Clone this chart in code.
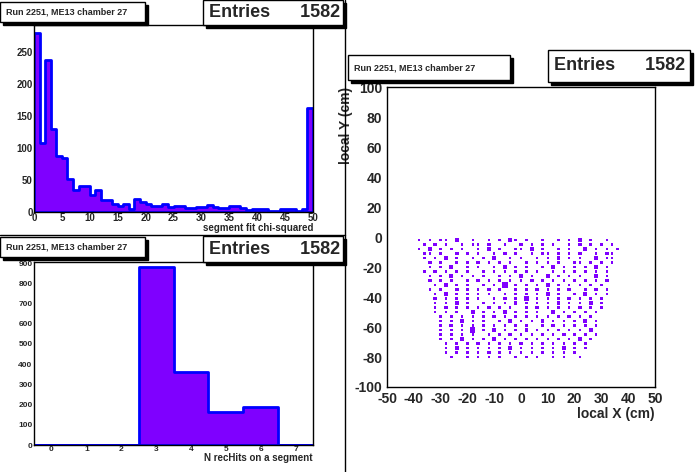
import numpy as np, pandas as pd, seaborn as sns, matplotlib
matplotlib.use("Agg")
import matplotlib.pyplot as plt

sns.set_style("white")
plt.rcParams['font.family'] = ['Liberation Sans', 'DejaVu Sans']
plt.rcParams['font.weight'] = 'bold'
plt.rcParams['axes.unicode_minus'] = False

chi2_bins = list(range(0, 50))
chi2_counts = [280,108,237,130,88,84,51,35,41,41,27,34,19,19,13,9,12,5,21,16,
               13,10,9,13,8,9,10,6,6,8,8,11,8,6,7,10,9,7,3,5,5,4,2,2,4,4,4,2,5,162]
nhits_bins = [0,1,2,3,4,5,6,7]
nhits_counts = [0,0,0,880,360,165,190,0]

# 2D occupancy: rows from y=-2 downwards (step 3 cm), cols from x=-38 (step 2 cm)
xy_x0, xy_dx, xy_y0, xy_dy = -38, 2, -2, -3
xy_rows = [
 "1.1.11.2..1..1.1.21.1..1..1.1.2.1..1..",
 ".1.2.1..1.11.2..1..2.1.1.1..1.2.1.1.1.",
 "1.2.1.1.1..1.2.1..11.2.1..1.1..2.1.1.1",
 ".21.1..2.1.1..1.2.1..1.21.1.1.2..1.21.",
 ".1.1.2.1..1.1.2..1.1..1.1.2.1.1..2.11.",
 "..2.1..1.1.2.1.1.1..2.1.1.1..21.1.1.1.",
 "..1.1.2..1.1..1.2.1.1..1.2.1.1.1.2.1..",
 ".1.2.1.1.1..2.1.1.2.1.1..1.1.2.1.1.1..",
 "..1.1.2.1.1.1..1.1.2.1..2.1.1.1..2.1..",
 "..2.1.1..1.2.1.1.1.1.2.1.1.1.2.1.1.2..",
 "...1.2.1.1..1.1.3.1.1.1.2.1.1.1.1.1...",
 "..1.1..2.1.1.2.1..1.1.2.1.1.2..1.2.1..",
 "...1.2.1.1.1.1..1.1.1.1.2.1..1.2.1.1..",
 "...2.1.1.2.1..1.2.1.3.1.1.1.2.1.1.1...",
 "...1.1.2.1..1.1.1.2.1.1.1.2.1.1.2.1...",
 "...1.2.1.1.1.2.1.1..1.2.1.1.1.2.1.1...",
 "...1.1.1..2.1.1.2.1.1.1..2.1.1.1.1....",
 "....2.1.1.1.1.2.1.1.2.1.1.1.2.1.1.....",
 "....1.1.2.1.1..1.2.1.1.2.1.1.1.2.1....",
 "....1.2.1.1.2.1.1.1.1..1.2.1.2.1.1....",
 "....1.1.1.3.1.2.1.1.2.1.1.1.1.1.2.....",
 "....2.1.1.1..1.1.2.1.1.2.1.2.1.1.1....",
 "....1.1.2.1.1.2.1.1.1.1.1.1.1.2.1.....",
 ".....1.1.1.2.1.1.1.2.1.2.1.1.1.1......",
 ".....1.2.1.1.1.1.2.1.1.1.1.2.1.1......",
 ".....1.1.1.1.2.1.1.1.1.2.1.1.1........",
 "......1..1.1.1.1..1.1.1..1.1..1.......",
]

W, H = 696, 472
fig = plt.figure(figsize=(W/100, H/100), dpi=100)
purple = '#7f00ff'
blue = '#0000ff'

def ax_at(x0, y0, x1, y1):
    return fig.add_axes([x0/W, 1-y1/H, (x1-x0)/W, (y1-y0)/H])

def box(x0, y0, x1, y1, text, size, shadow=True):
    if shadow:
        fig.patches.append(plt.Rectangle(((x0+3)/W, 1-(y1+3)/H), (x1-x0)/W, (y1-y0)/H,
                                         transform=fig.transFigure, color='black', zorder=5))
    fig.patches.append(plt.Rectangle((x0/W, 1-y1/H), (x1-x0)/W, (y1-y0)/H, transform=fig.transFigure,
                                     facecolor='white', edgecolor='black', lw=1, zorder=6))
    fig.text((x0+6)/W, 1-((y0+y1)/2)/H, text, fontsize=size, va='center', ha='left', zorder=7, weight='bold')

def style(ax):
    for s in ax.spines.values():
        s.set_linewidth(1); s.set_color('black')
    ax.tick_params(direction='in', length=5, width=1, top=False, right=False)
    ax.minorticks_on()
    ax.tick_params(which='minor', direction='in', length=3, width=0.8, top=False, right=False)

fig.add_artist(plt.Line2D([345/W,345/W],[0,1], color='black', lw=1))
fig.add_artist(plt.Line2D([0,345/W],[1-235/H,1-235/H], color='black', lw=1))

# Top-left
ax1 = ax_at(34, 25, 313, 212)
df1 = pd.DataFrame({'x': chi2_bins, 'w': chi2_counts})
sns.histplot(data=df1, x='x', weights='w', binwidth=1, binrange=(0, 50), element='step', fill=True,
             color=purple, alpha=1, edgecolor=blue, linewidth=2, ax=ax1)
ax1.set_xlim(0, 50); ax1.set_ylim(0, 292)
ax1.set_xticks(range(0, 51, 5)); ax1.set_yticks(range(0, 251, 50))
ax1.tick_params(labelsize=7, pad=1)
ax1.set_ylabel(''); ax1.set_xlabel('segment fit chi-squared', fontsize=7, weight='bold', loc='right', labelpad=0)
style(ax1)
box(0, 2, 145, 22, 'Run 2251, ME13 chamber 27', 6.5)
box(203, 0, 343, 25, 'Entries      1582', 13)

# Bottom-left
ax2 = ax_at(34, 262, 313, 445)
df2 = pd.DataFrame({'x': nhits_bins, 'w': nhits_counts})
sns.histplot(data=df2, x='x', weights='w', binwidth=1, binrange=(-0.5, 7.5), element='step', fill=True,
             color=purple, alpha=1, edgecolor=blue, linewidth=2, ax=ax2)
ax2.set_xlim(-0.5, 7.5); ax2.set_ylim(0, 905)
ax2.set_xticks(range(0, 8)); ax2.set_yticks(range(0, 901, 100))
ax2.tick_params(labelsize=6, pad=1)
ax2.set_ylabel(''); ax2.set_xlabel('N recHits on a segment', fontsize=7, weight='bold', loc='right', labelpad=0)
style(ax2)
box(0, 237, 145, 257, 'Run 2251, ME13 chamber 27', 6.5)
box(203, 236, 343, 262, 'Entries      1582', 13)

# Right
ax3 = ax_at(387, 87, 655, 387)
pts = []
for i, row in enumerate(xy_rows):
    for j, c in enumerate(row):
        if c != '.':
            pts.append((xy_x0 + j*xy_dx, xy_y0 + i*xy_dy, int(c)))
df3 = pd.DataFrame(pts, columns=['x', 'y', 'n'])
sns.scatterplot(data=df3, x='x', y='y', size='n', sizes={1: 3, 2: 7, 3: 14}, marker='s',
                color=purple, edgecolor='none', legend=False, ax=ax3)
ax3.set_xlim(-50, 50); ax3.set_ylim(-100, 100)
ax3.set_xticks(range(-50, 51, 10)); ax3.set_yticks(range(-100, 101, 20))
ax3.tick_params(labelsize=10)
style(ax3)
ax3.set_xlabel('local X (cm)', fontsize=10, weight='bold', loc='right', labelpad=1)
ax3.set_ylabel('local Y (cm)', fontsize=10, weight='bold', loc='top', labelpad=1)
box(348, 55, 510, 80, 'Run 2251, ME13 chamber 27', 6.5)
box(548, 50, 690, 82, 'Entries      1582', 13)

fig.savefig('out.png', dpi=100)
